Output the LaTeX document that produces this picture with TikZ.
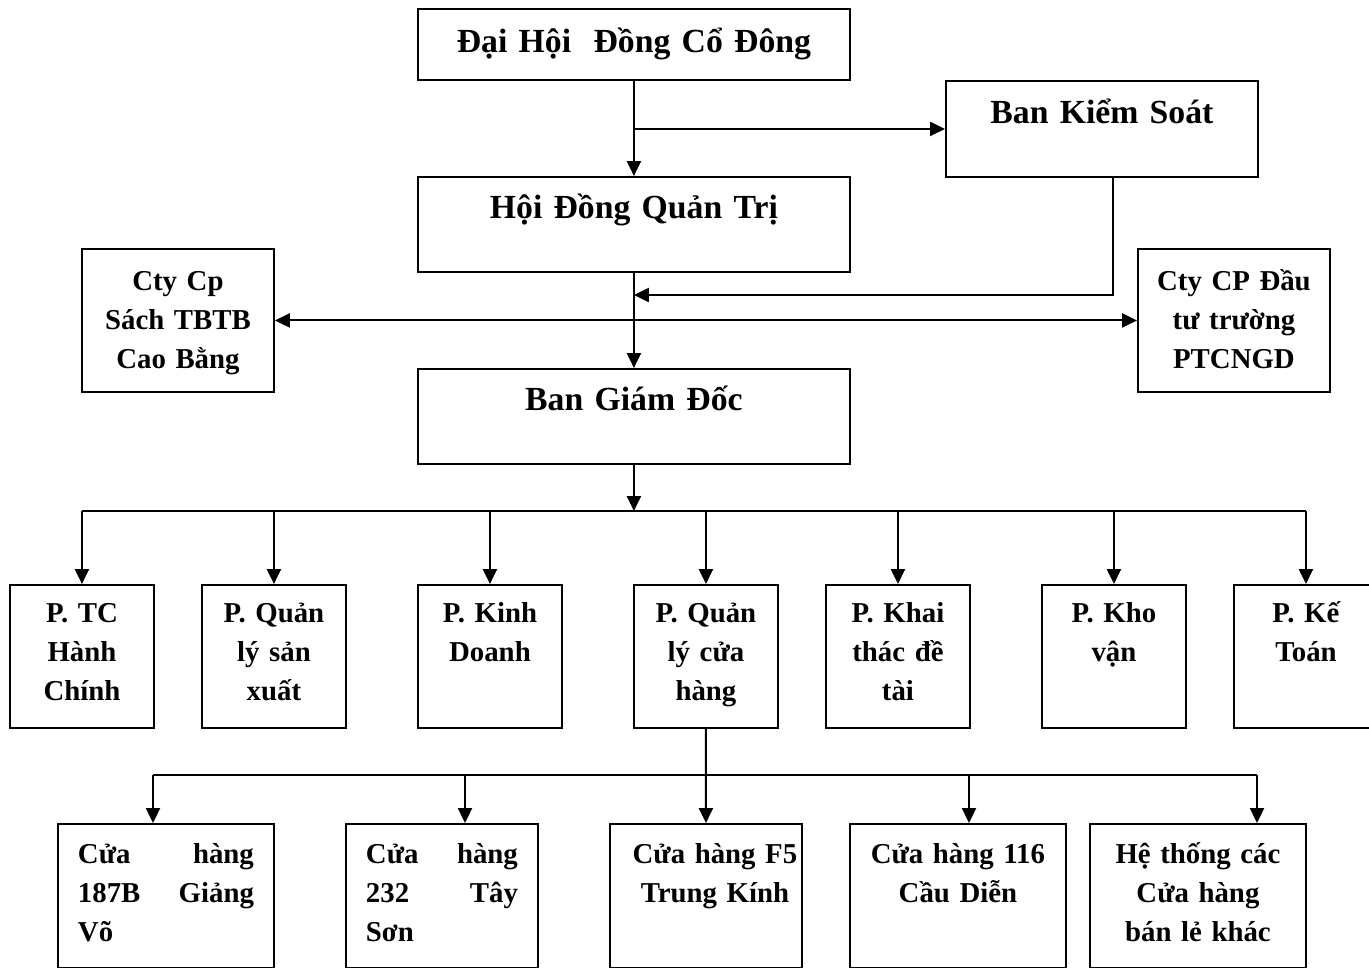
\documentclass[tikz,border=0pt]{standalone}
\usepackage{fontspec}
\setmainfont{Liberation Serif}
\usetikzlibrary{arrows.meta}

\tikzset{
  >={Triangle[length=8.5pt,width=8pt]},
  box/.style={draw, line width=1.1pt, anchor=north west, inner sep=0pt, align=center,
    font=\bfseries\fontsize{16.4}{22}\selectfont},
  head/.style={box, text width=8.64cm, text height=0.84cm, text depth=1.06cm,
    font=\bfseries\fontsize{19.2}{24}\selectfont},
  cty/.style={box, text width=3.84cm, text height=0.84cm, text depth=2.02cm},
  dept/.style={box, text width=2.88cm, text height=0.76cm, text depth=2.10cm},
  shop/.style={box, text width=3.84cm, text height=0.80cm, text depth=2.08cm},
  wshop/.style={shop, text width=4.32cm},
  jshop/.style={shop, align=left, inner xsep=0.4cm},
  line/.style={line width=1.1pt},
  arr/.style={line, ->},
}

\begin{document}
\begin{tikzpicture}[x=0.02cm, y=-0.02cm]
    \useasboundingbox (0,0) rectangle (1369,967);

    \node[head, text height=0.88cm, text depth=0.54cm] (dhcd) at (417,8) {Đại Hội\ \ Đồng Cổ Đông};
    \node[head, text width=6.24cm, text height=0.86cm] (bks) at (945,80) {Ban Kiểm Soát};
    \node[head] (hdqt) at (417,176) {Hội Đồng Quản Trị};
    \node[head] (bgd) at (417,368) {Ban Giám Đốc};
    \node[cty] (cty1) at (81,248) {Cty Cp\\Sách TBTB\\Cao Bằng};
    \node[cty] (cty2) at (1137,248) {Cty CP Đầu\\tư trường\\PTCNGD};

    \foreach \i/\x/\txt in {1/9/{P. TC\\Hành\\Chính}, 2/201/{P. Quản\\lý sản\\xuất},
        3/417/{P. Kinh\\Doanh}, 4/633/{P. Quản\\lý cửa\\hàng}, 5/825/{P. Khai\\thác đề\\tài},
        6/1041/{P. Kho\\vận}, 7/1233/{P. Kế\\Toán}} {
      \node[dept] (p\i) at (\x,584) {\txt};
    }

    \node[jshop, text width=3.52cm] (s1) at (57,823) {Cửa\hfill hàng\\187B\hfill Giảng\\Võ};
    \node[jshop, text width=3.04cm] (s2) at (345,823) {Cửa\hfill hàng\\232\hfill Tây\\Sơn};
    \node[shop] (s3) at (609,823) {\hspace*{0.36cm}Cửa hàng F5\\\hspace*{0.36cm}Trung Kính};
    \node[wshop] (s4) at (849,823) {Cửa hàng 116\\Cầu Diễn};
    \node[wshop] (s5) at (1089,823) {Hệ thống các\\Cửa hàng\\bán lẻ khác};

    % top part
    \draw[arr] (dhcd.south) -- (hdqt.north);
    \draw[arr] (dhcd.south |- bks.west) -- (bks.west);
    \coordinate (k) at (1113,295);
    \draw[arr] (bks.south -| k) -- (k) -- (hdqt.south |- k);
    \draw[arr] (hdqt.south) -- (bgd.north);
    \draw[line, <->] (cty1.east) -- (cty2.west);

    % departments
    \coordinate (bus) at (633,511);
    \draw[arr] (bgd.south) -- (bgd.south |- bus);
    \draw[line] (p1.north |- bus) -- (p7.north |- bus);
    \foreach \i in {1,...,7} {
      \draw[arr] (p\i.north |- bus) -- (p\i.north);
    }

    % shops
    \draw[arr] (p4.south) -- (s3.north);
    \foreach \s/\x in {s1/153, s2/465, s4/969, s5/1257} {
      \coordinate (t\s) at (\x,775);
      \draw[arr] (t\s) -- (t\s |- \s.north);
    }
    \draw[line] (ts1) -- (ts5);
    % \draw[line] (p4.south) -- (p4.south |- ts1);
  \end{tikzpicture}
\end{document}
